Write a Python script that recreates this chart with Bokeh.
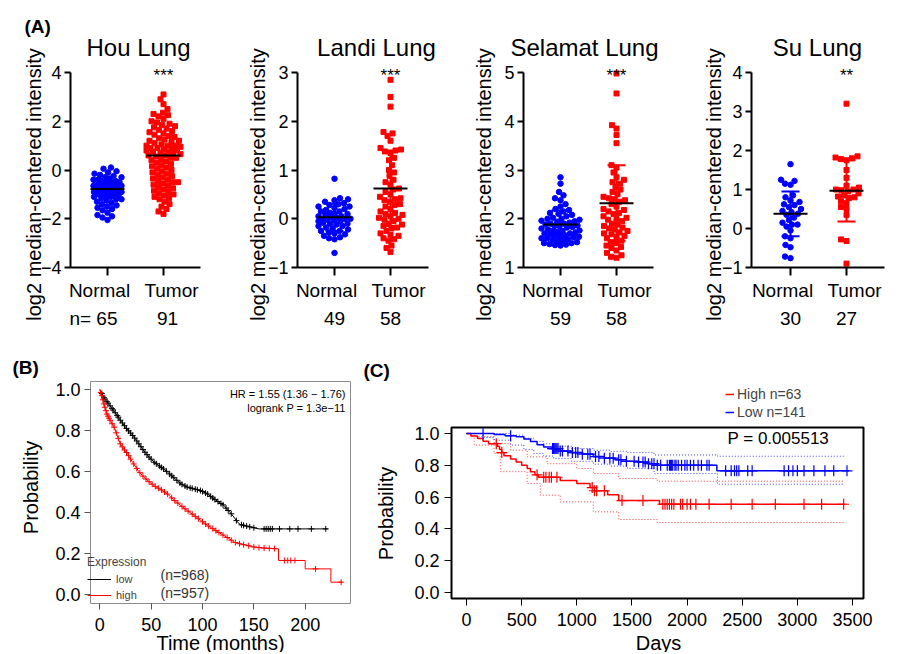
import numpy as np
from bokeh.plotting import figure
from bokeh.models import (Label, FixedTicker, NumeralTickFormatter, Legend,
                          LegendItem, ColumnDataSource, Range1d)
from bokeh.layouts import row, column
from bokeh.embed import file_html
from bokeh.resources import INLINE

FONT = "Liberation Sans"
BLUE = "#0000ff"
RED = "#ff0000"

# ======================= Panel A data =======================
groups = ["Normal", "Tumor"]
a_titles = ["Hou Lung", "Landi Lung", "Selamat Lung", "Su Lung"]
a_sig = ["***", "***", "***", "**"]
a_n = [[65, 91], [49, 58], [59, 58], [30, 27]]
a_yticks = [[-4, -2, 0, 2, 4], [-1, 0, 1, 2, 3], [1, 2, 3, 4, 5], [-1, 0, 1, 2, 3, 4]]

hou_normal = [0.1, 0.05, -0.05, -0.1, -0.15, -0.2, -0.25, -0.3, -0.3, -0.35,
              -0.4, -0.4, -0.45, -0.45, -0.5, -0.5, -0.5, -0.55, -0.55, -0.6,
              -0.6, -0.6, -0.65, -0.65, -0.65, -0.7, -0.7, -0.7, -0.7, -0.75,
              -0.75, -0.75, -0.8, -0.8, -0.8, -0.85, -0.85, -0.9, -0.9, -0.9,
              -0.95, -0.95, -1.0, -1.0, -1.05, -1.05, -1.1, -1.1, -1.15, -1.2,
              -1.2, -1.25, -1.3, -1.35, -1.4, -1.45, -1.5, -1.55, -1.6, -1.65,
              -1.75, -1.85, -1.9, -1.95, -2.05]
hou_tumor = [3.1, 2.9, 2.7, 2.5, 2.35, 2.3, 2.25, 2.2, 2.1, 2.0,
             1.95, 1.9, 1.85, 1.8, 1.75, 1.7, 1.65, 1.6, 1.55, 1.5,
             1.45, 1.4, 1.35, 1.3, 1.25, 1.2, 1.2, 1.15, 1.1, 1.05,
             1.0, 1.0, 1.0, 0.95, 0.9, 0.9, 0.9, 0.85, 0.8, 0.8,
             0.75, 0.75, 0.7, 0.7, 0.65, 0.6, 0.6, 0.55, 0.5, 0.5,
             0.45, 0.4, 0.35, 0.3, 0.25, 0.2, 0.15, 0.1, 0.05, 0.0,
             -0.05, -0.1, -0.15, -0.2, -0.25, -0.3, -0.35, -0.4, -0.45, -0.5,
             -0.5, -0.55, -0.6, -0.65, -0.7, -0.75, -0.8, -0.85, -0.9, -0.95,
             -1.0, -1.05, -1.1, -1.15, -1.2, -1.3, -1.4, -1.5, -1.6, -1.7, -1.8]
landi_normal = [0.82, 0.42, 0.4, 0.38, 0.35, 0.32, 0.3, 0.28, 0.25, 0.25,
                0.22, 0.2, 0.18, 0.15, 0.15, 0.12, 0.1, 0.1, 0.08, 0.05,
                0.05, 0.03, 0.02, 0.0, 0.0, 0.0, -0.02, -0.03, -0.05, -0.05,
                -0.08, -0.1, -0.1, -0.12, -0.15, -0.15, -0.18, -0.2, -0.22, -0.25,
                -0.25, -0.28, -0.3, -0.32, -0.35, -0.38, -0.4, -0.42, -0.7]
landi_tumor = [2.85, 2.5, 2.3, 1.78, 1.75, 1.7, 1.6, 1.45, 1.42, 1.4,
               1.38, 1.35, 1.25, 1.2, 1.1, 1.0, 0.95, 0.88, 0.8, 0.75,
               0.7, 0.62, 0.6, 0.55, 0.5, 0.45, 0.42, 0.4, 0.38, 0.35,
               0.3, 0.28, 0.25, 0.2, 0.15, 0.12, 0.1, 0.08, 0.05, 0.02,
               0.0, -0.02, -0.05, -0.1, -0.12, -0.15, -0.18, -0.2, -0.25, -0.3,
               -0.33, -0.35, -0.4, -0.42, -0.45, -0.55, -0.6, -0.68]
selamat_normal = [2.85, 2.72, 2.55, 2.48, 2.42, 2.38, 2.3, 2.25, 2.2, 2.18,
                  2.15, 2.12, 2.1, 2.08, 2.05, 2.02, 2.0, 2.0, 1.98, 1.96,
                  1.95, 1.94, 1.92, 1.9, 1.9, 1.88, 1.86, 1.85, 1.85, 1.83,
                  1.82, 1.8, 1.78, 1.76, 1.75, 1.75, 1.73, 1.72, 1.7, 1.7,
                  1.68, 1.66, 1.65, 1.65, 1.63, 1.62, 1.6, 1.6, 1.58, 1.57,
                  1.55, 1.54, 1.52, 1.5, 1.5, 1.48, 1.47, 1.46, 1.45]
selamat_tumor = [4.98, 4.57, 3.92, 3.85, 3.72, 3.55, 3.1, 3.05, 2.95, 2.85,
                 2.8, 2.75, 2.72, 2.65, 2.6, 2.55, 2.5, 2.45, 2.42, 2.4,
                 2.38, 2.35, 2.3, 2.25, 2.2, 2.18, 2.15, 2.12, 2.1, 2.05,
                 2.02, 2.0, 1.98, 1.95, 1.9, 1.88, 1.85, 1.82, 1.8, 1.78,
                 1.75, 1.72, 1.7, 1.68, 1.65, 1.62, 1.6, 1.55, 1.52, 1.5,
                 1.45, 1.42, 1.4, 1.35, 1.3, 1.25, 1.22, 1.2]
su_normal = [1.65, 1.25, 1.22, 1.15, 1.12, 0.85, 0.8, 0.72, 0.68, 0.62,
             0.6, 0.55, 0.5, 0.45, 0.42, 0.38, 0.35, 0.28, 0.22, 0.15,
             0.1, 0.1, 0.05, -0.05, -0.2, -0.25, -0.42, -0.48, -0.72, -0.76]
su_tumor = [3.2, 1.85, 1.82, 1.8, 1.78, 1.75, 1.5, 1.3, 1.1, 1.05,
            1.0, 1.0, 0.98, 0.95, 0.9, 0.85, 0.82, 0.8, 0.78, 0.7,
            0.65, 0.55, 0.5, 0.35, -0.28, -0.32, -0.9]

# centre line (mean) and mean +/- SD whiskers
hou_mean = [-0.78, 0.60]
landi_mean = [0.03, 0.62]
landi_sd_low = [-0.25, -0.15]
landi_sd_high = [0.31, 1.40]
selamat_mean = [1.88, 2.32]
selamat_sd_low = [1.60, 1.55]
selamat_sd_high = [2.17, 3.10]
su_mean = [0.38, 0.97]
su_sd_low = [-0.20, 0.18]
su_sd_high = [0.95, 1.75]

# ======================= Panel B data (KM, months) =======================
b_low_t = [0, 4, 10, 16, 20, 26, 33, 38, 43, 48, 53, 60, 66, 72, 79, 85, 92, 98,
           105, 111, 116, 121, 124, 127, 131, 134, 137, 146, 155, 222]
b_low_s = [1.0, 0.96, 0.92, 0.88, 0.85, 0.81, 0.77, 0.735, 0.70, 0.67, 0.645, 0.62,
           0.597, 0.57, 0.54, 0.524, 0.515, 0.507, 0.49, 0.467, 0.45, 0.434, 0.415,
           0.40, 0.375, 0.353, 0.341, 0.33, 0.32, 0.32]
b_high_t = [0, 2, 4, 7, 10, 14, 17, 20, 24, 27, 30, 33, 38, 43, 48, 53, 60, 66, 72,
            79, 85, 92, 98, 105, 111, 118, 125, 131, 138, 144, 150, 156, 165, 174,
            174, 200, 200, 225, 225, 236]
b_high_s = [1.0, 0.97, 0.93, 0.88, 0.85, 0.816, 0.775, 0.735, 0.705, 0.686, 0.66,
            0.637, 0.60, 0.572, 0.55, 0.53, 0.51, 0.49, 0.462, 0.434, 0.41, 0.385,
            0.362, 0.337, 0.318, 0.296, 0.275, 0.255, 0.245, 0.239, 0.232, 0.228,
            0.225, 0.223, 0.166, 0.166, 0.125, 0.125, 0.06, 0.06]
b_low_cens = [2, 4, 5, 7, 8, 10, 12, 13, 15, 17, 18, 20, 22, 24, 26, 28, 30, 32, 34,
              36, 38, 40, 42, 44, 46, 48, 50, 53, 55, 58, 60, 62, 65, 68, 70, 72, 75,
              78, 80, 83, 85, 88, 90, 93, 95, 98, 100, 103, 105, 108, 110, 112, 115,
              118, 120, 123, 125, 128, 133, 138, 140, 143, 146, 150, 160, 162, 164,
              166, 168, 175, 185, 193, 206, 220]
b_high_cens = [1, 2, 3, 4, 5, 6, 7, 8, 9, 10, 12, 14, 16, 18, 20, 22, 24, 26, 28, 30,
               33, 36, 39, 42, 45, 48, 51, 54, 57, 60, 63, 66, 70, 73, 76, 80, 83, 86,
               90, 93, 96, 100, 103, 106, 110, 113, 116, 120, 124, 128, 132, 136, 140,
               145, 150, 155, 160, 165, 170, 180, 183, 186, 190, 210, 235]
b_labels = ["low", "high"]
b_counts = ["(n=968)", "(n=957)"]
b_xticks = [0, 50, 100, 150, 200]
prob_ticks = [0, 0.2, 0.4, 0.6, 0.8, 1.0]

# ======================= Panel C data (KM, days) =======================
c_low_t = [0, 250, 350, 450, 520, 580, 640, 700, 780, 850, 950, 1050, 1150, 1250,
           1350, 1450, 1550, 1650, 1720, 2270, 3470]
c_low_s = [1.0, 0.993, 0.986, 0.979, 0.965, 0.95, 0.93, 0.915, 0.905, 0.89, 0.88,
           0.87, 0.855, 0.845, 0.835, 0.825, 0.82, 0.81, 0.80, 0.765, 0.765]
c_low_up_t = [0, 400, 520, 610, 700, 790, 950, 1150, 1300, 1460, 1700, 2275, 3420]
c_low_up_s = [1.0, 0.99, 0.97, 0.95, 0.935, 0.92, 0.905, 0.895, 0.888, 0.88, 0.865,
              0.857, 0.857]
c_low_lo_t = [0, 150, 250, 400, 520, 610, 700, 790, 950, 1150, 1300, 1460, 1700,
              2275, 3420]
c_low_lo_s = [1.0, 0.975, 0.958, 0.927, 0.9, 0.874, 0.858, 0.843, 0.825, 0.807,
              0.795, 0.78, 0.748, 0.681, 0.681]
c_high_t = [0, 40, 100, 150, 200, 280, 300, 320, 340, 400, 450, 500, 550, 580, 620,
            650, 850, 1000, 1120, 1160, 1280, 1380, 1750, 3430]
c_high_s = [1.0, 0.984, 0.968, 0.952, 0.936, 0.92, 0.90, 0.88, 0.86, 0.84, 0.82,
            0.80, 0.78, 0.76, 0.74, 0.725, 0.705, 0.685, 0.66, 0.64, 0.615, 0.578,
            0.555, 0.555]
c_high_up_t = [0, 40, 250, 400, 550, 730, 1000, 1150, 1380, 1730, 3430]
c_high_up_s = [1.0, 0.98, 0.937, 0.895, 0.853, 0.81, 0.78, 0.748, 0.717, 0.70, 0.70]
c_high_lo_t = [0, 70, 250, 310, 550, 670, 850, 1150, 1380, 1730, 3430]
c_high_lo_s = [1.0, 0.927, 0.874, 0.76, 0.686, 0.612, 0.57, 0.507, 0.459, 0.44, 0.44]
c_low_cens = [150, 400, 780, 790, 800, 810, 820, 830, 850, 870, 920, 960, 990, 1010,
              1050, 1100, 1120, 1170, 1200, 1250, 1300, 1330, 1380, 1400, 1450, 1520,
              1560, 1600, 1620, 1650, 1680, 1700, 1730, 1760, 1820, 1840, 1850, 1860,
              1870, 1890, 1900, 1920, 1950, 1980, 2000, 2030, 2060, 2100, 2130, 2180,
              2200, 2350, 2400, 2430, 2450, 2470, 2550, 2590, 2880, 2920, 2960, 3000,
              3060, 3150, 3250, 3330, 3450]
c_high_cens = [270, 320, 640, 700, 720, 750, 770, 820, 1140, 1160, 1180, 1250, 1410,
               1600, 1780, 1800, 1820, 1840, 1860, 1880, 1940, 1960, 2000, 2030, 2080,
               2200, 2400, 2590, 2800, 3060, 3220, 3420]
c_labels = ["High n=63", "Low n=141"]
c_pval = "P = 0.005513"
c_xticks = [0, 500, 1000, 1500, 2000, 2500, 3000, 3500]


# ======================= helpers =======================
class Map:
    """linear mapping between data values and page pixels for one figure"""
    def __init__(self, fx, fy, xa, xb, ya, yb):
        self.fx, self.fy = fx, fy
        self.kx = (xb[0] - xa[0]) / (xb[1] - xa[1])
        self.ky = (yb[0] - ya[0]) / (yb[1] - ya[1])
        self.xa, self.ya = xa, ya

    def x(self, px):
        return self.xa[0] + (px - self.xa[1]) * self.kx

    def y(self, py):
        return self.ya[0] + (py - self.ya[1]) * self.ky

    def fig(self):
        p = figure(width=self.fx[1] - self.fx[0], height=self.fy[1] - self.fy[0],
                   x_range=Range1d(self.x(self.fx[0]), self.x(self.fx[1])),
                   y_range=Range1d(self.y(self.fy[1]), self.y(self.fy[0])),
                   output_backend="svg", toolbar_location=None, min_border=0)
        p.outline_line_color = None
        p.grid.visible = False
        p.axis.minor_tick_line_color = None
        p.axis.major_label_text_font = FONT
        p.axis.major_label_text_color = "black"
        return p


def lab(p, m, sx, sy, text, size, align="center", baseline="middle",
        color="black", bold=False, angle=0.0):
    p.add_layout(Label(x=m.x(sx), y=m.y(sy), text=text, text_font=FONT,
                       text_font_size=f"{size}px", text_align=align,
                       text_baseline=baseline, text_color=color,
                       text_font_style="bold" if bold else "normal", angle=angle))


def swarm_offsets(vals, px_y, d, half_w):
    """deterministic beeswarm inside a band of +/- half_w pixels"""
    vals = np.asarray(vals, float)
    order = np.argsort(vals, kind="stable")
    cands = sorted(np.arange(-half_w, half_w + 0.01, 0.5), key=lambda c: abs(c))
    py, pxs = [], []
    out = np.zeros(len(vals))
    for i in order:
        y = vals[i] * px_y
        a_y = np.array(py)
        a_x = np.array(pxs)
        best, best_d = 0.0, -1.0
        if len(a_y):
            near = np.abs(a_y - y) < d
            ny, nx = a_y[near], a_x[near]
            if len(ny):
                for c in cands:
                    md = np.sqrt(np.min((nx - c) ** 2 + (ny - y) ** 2))
                    if md >= d:
                        best = c
                        break
                    if md > best_d + 0.05:
                        best_d, best = md, c
        py.append(y)
        pxs.append(best)
        out[i] = best
    return out


# ======================= Panel A =======================
a_data = [(hou_normal, hou_tumor), (landi_normal, landi_tumor),
          (selamat_normal, selamat_tumor), (su_normal, su_tumor)]
a_stats = [(hou_mean, None, None), (landi_mean, landi_sd_low, landi_sd_high),
           (selamat_mean, selamat_sd_low, selamat_sd_high),
           (su_mean, su_sd_low, su_sd_high)]
# page-pixel layout: figure x-extent, tick px of Normal/Tumor, axis x-extent,
# title centre, y-label centre, half width of each swarm
a_fig_x = [(0, 230), (230, 457), (457, 684), (684, 905)]
a_tick_px = [(107, 163), (334, 390), (560, 616), (790, 846)]
a_axis_px = [(70, 200), (297, 428), (523, 653), (751, 884)]
a_title_px = [138, 376, 584, 817]
a_ylab_px = [33, 257, 483, 713]
a_swarm_w = [(14, 17), (16, 15), (19, 17), (16, 17)]

top_figs = []
for i in range(4):
    ticks = a_yticks[i]
    t1, t2 = a_tick_px[i]
    m = Map(a_fig_x[i], (0, 333), (1, t1), (2, t2), (ticks[-1], 72), (ticks[0], 267))
    p = m.fig()
    ax0, ax1 = m.x(a_axis_px[i][0]), m.x(a_axis_px[i][1])
    p.xaxis.fixed_location = ticks[0]
    p.yaxis.fixed_location = ax0
    p.xaxis.bounds = (ax0, ax1)
    p.yaxis.bounds = (ticks[0], ticks[-1])
    p.axis.axis_line_width = 2
    p.axis.major_tick_line_width = 2
    p.axis.major_tick_in = 0
    p.xaxis.major_tick_out = 8
    p.yaxis.major_tick_out = 6
    p.xaxis.ticker = FixedTicker(ticks=[1, 2])
    p.xaxis.major_label_overrides = {1: " ", 2: " "}
    p.yaxis.ticker = FixedTicker(ticks=ticks)
    p.yaxis.major_label_text_font_size = "18px"
    p.yaxis.major_label_standoff = 3

    px_x = 1.0 / m.kx
    px_y = 1.0 / abs(m.ky)
    normal, tumor = a_data[i]
    for g, (vals, colr, mk, sz) in enumerate([(normal, BLUE, "circle", 5.5),
                                               (tumor, RED, "square", 5)]):
        offs = swarm_offsets(vals, px_y, 5.5, a_swarm_w[i][g])
        src = ColumnDataSource(dict(x=(g + 1) + offs / px_x, y=vals))
        p.scatter("x", "y", source=src, marker=mk, size=sz,
                  fill_color=colr, line_color=colr)

    means, lo, hi = a_stats[i]
    cx = [1, 2]
    if lo is not None:
        cols = [BLUE, RED]
        cap = 9.0 / px_x
        p.segment(x0=cx, y0=lo, x1=cx, y1=hi, line_color=cols, line_width=2)
        p.segment(x0=[c - cap for c in cx], y0=lo, x1=[c + cap for c in cx], y1=lo,
                  line_color=cols, line_width=2)
        p.segment(x0=[c - cap for c in cx], y0=hi, x1=[c + cap for c in cx], y1=hi,
                  line_color=cols, line_width=2)
    half = 17.0 / px_x
    p.segment(x0=[c - half for c in cx], y0=means, x1=[c + half for c in cx],
              y1=means, line_color="black", line_width=2)

    if i == 0:
        lab(p, m, 24, 26, "(A)", 19, align="left", bold=True)
    lab(p, m, a_title_px[i], 47, a_titles[i], 24, baseline="alphabetic")
    lab(p, m, t2, 75, a_sig[i], 17, baseline="alphabetic")
    lab(p, m, a_ylab_px[i], 184, "log2 median-centered intensity", 20,
        angle=np.pi / 2)
    lab(p, m, t1 - 8, 290, groups[0], 19)
    lab(p, m, t2 + 8, 290, groups[1], 19)
    if i == 0:
        lab(p, m, 117, 318, f"n= {a_n[i][0]}", 19, align="right")
        lab(p, m, t2 + 4, 318, f"{a_n[i][1]}", 19)
    else:
        lab(p, m, t1, 318, f"{a_n[i][0]}", 19)
        lab(p, m, t2, 318, f"{a_n[i][1]}", 19)
    top_figs.append(p)

# ======================= Panel B =======================
mB = Map((0, 358), (333, 652), (0, 99.3), (200, 304.7), (1.0, 389), (0.0, 594))
pB = mB.fig()
bx0, bx1, by0, by1 = mB.x(90), mB.x(350), mB.y(603), mB.y(381)
pB.quad(left=[bx0], right=[bx1], bottom=[by0], top=[by1], fill_color=None,
        line_color="#8c8c8c", line_width=1)
pB.xaxis.fixed_location = by0
pB.yaxis.fixed_location = bx0
pB.axis.axis_line_color = None
pB.axis.major_tick_in = 0
pB.axis.major_tick_out = 6
pB.axis.major_tick_line_color = "#555555"
pB.axis.major_label_text_font_size = "18px"
pB.yaxis.major_label_standoff = 4
pB.xaxis.major_label_standoff = 8
pB.xaxis.ticker = FixedTicker(ticks=b_xticks)
pB.yaxis.ticker = FixedTicker(ticks=prob_ticks)
pB.yaxis.formatter = NumeralTickFormatter(format="0.0")

rb_low = pB.line(b_low_t, b_low_s, line_color="black", line_width=1)
rb_high = pB.line(b_high_t, b_high_s, line_color=RED, line_width=1)
pB.scatter(b_low_cens, np.interp(b_low_cens, b_low_t, b_low_s), marker="cross",
           size=6, line_color="black", line_width=1)
pB.scatter(b_high_cens, np.interp(b_high_cens, b_high_t, b_high_s), marker="cross",
           size=6, line_color=RED, line_width=1)

legB = Legend(items=[LegendItem(label=b_labels[0], renderers=[rb_low]),
                     LegendItem(label=b_labels[1], renderers=[rb_high])],
              location=(87, 49), title="Expression", title_text_font=FONT,
              title_text_font_size="12px", title_text_font_style="normal",
              label_text_font=FONT, label_text_font_size="11px",
              glyph_width=24, glyph_height=16, label_height=16, label_standoff=5,
              spacing=0, padding=4, margin=0, title_standoff=2,
              border_line_color=None, background_fill_alpha=0)
pB.add_layout(legB)
lab(pB, mB, 160, 574, b_counts[0], 14, align="left", color="#333333")
lab(pB, mB, 160, 592, b_counts[1], 14, align="left", color="#333333")
lab(pB, mB, 345, 393, "HR = 1.55 (1.36 \u2212 1.76)", 11, align="right")
lab(pB, mB, 345, 407, "logrank P = 1.3e\u221211", 11, align="right")
lab(pB, mB, 12, 367, "(B)", 19, align="left", bold=True)
lab(pB, mB, 30, 487, "Probability", 20, angle=np.pi / 2)
lab(pB, mB, 220, 642, "Time (months)", 20)

# ======================= Panel C =======================
mC = Map((358, 905), (333, 652), (0, 466), (3500, 852), (1.0, 433), (0.0, 592))
pC = mC.fig()
cx0, cx1, cy0, cy1 = mC.x(451), mC.x(863), mC.y(598), mC.y(427)
pC.quad(left=[cx0], right=[cx1], bottom=[cy0], top=[cy1], fill_color=None,
        line_color="black", line_width=2)
pC.xaxis.fixed_location = cy0
pC.yaxis.fixed_location = cx0
pC.axis.axis_line_color = None
pC.axis.major_tick_in = 0
pC.axis.major_tick_out = 7
pC.axis.major_tick_line_color = "black"
pC.axis.major_label_text_font_size = "18px"
pC.yaxis.major_label_standoff = 5
pC.xaxis.major_label_standoff = 7
pC.xaxis.ticker = FixedTicker(ticks=c_xticks)
pC.yaxis.ticker = FixedTicker(ticks=prob_ticks)
pC.yaxis.formatter = NumeralTickFormatter(format="0.0")

for t, s, colr in [(c_high_up_t, c_high_up_s, RED), (c_high_lo_t, c_high_lo_s, RED),
                   (c_low_up_t, c_low_up_s, BLUE), (c_low_lo_t, c_low_lo_s, BLUE)]:
    pC.step(t, s, mode="after", line_color=colr, line_width=1, line_dash="1 2",
            line_alpha=0.75)
rc_high = pC.step(c_high_t, c_high_s, mode="after", line_color=RED, line_width=1.5)
rc_low = pC.step(c_low_t, c_low_s, mode="after", line_color=BLUE, line_width=1.5)


def step_at(ts, ss, cs):
    ts = np.asarray(ts)
    ss = np.asarray(ss)
    return ss[np.searchsorted(ts, cs, side="right") - 1]


pC.scatter(c_high_cens, step_at(c_high_t, c_high_s, c_high_cens), marker="cross",
           size=11, line_color=RED, line_width=1.2)
pC.scatter(c_low_cens, step_at(c_low_t, c_low_s, c_low_cens), marker="cross",
           size=11, line_color=BLUE, line_width=1.2)

legC = Legend(items=[LegendItem(label=c_labels[0], renderers=[rc_high]),
                     LegendItem(label=c_labels[1], renderers=[rc_low])],
              location=(367, 231), label_text_font=FONT, label_text_font_size="14px",
              glyph_width=9, glyph_height=18, label_height=18, label_standoff=3,
              spacing=0, padding=0, margin=0, border_line_color=None,
              background_fill_alpha=0)
pC.add_layout(legC)
lab(pC, mC, 727, 438, c_pval, 17, align="left")
lab(pC, mC, 363, 370, "(C)", 19, align="left", bold=True)
lab(pC, mC, 385, 513, "Probability", 20, angle=np.pi / 2)
lab(pC, mC, 658, 642, "Days", 20)

layout = column(row(*top_figs), row(pB, pC))
open("out.html", "w").write(file_html(layout, INLINE))
